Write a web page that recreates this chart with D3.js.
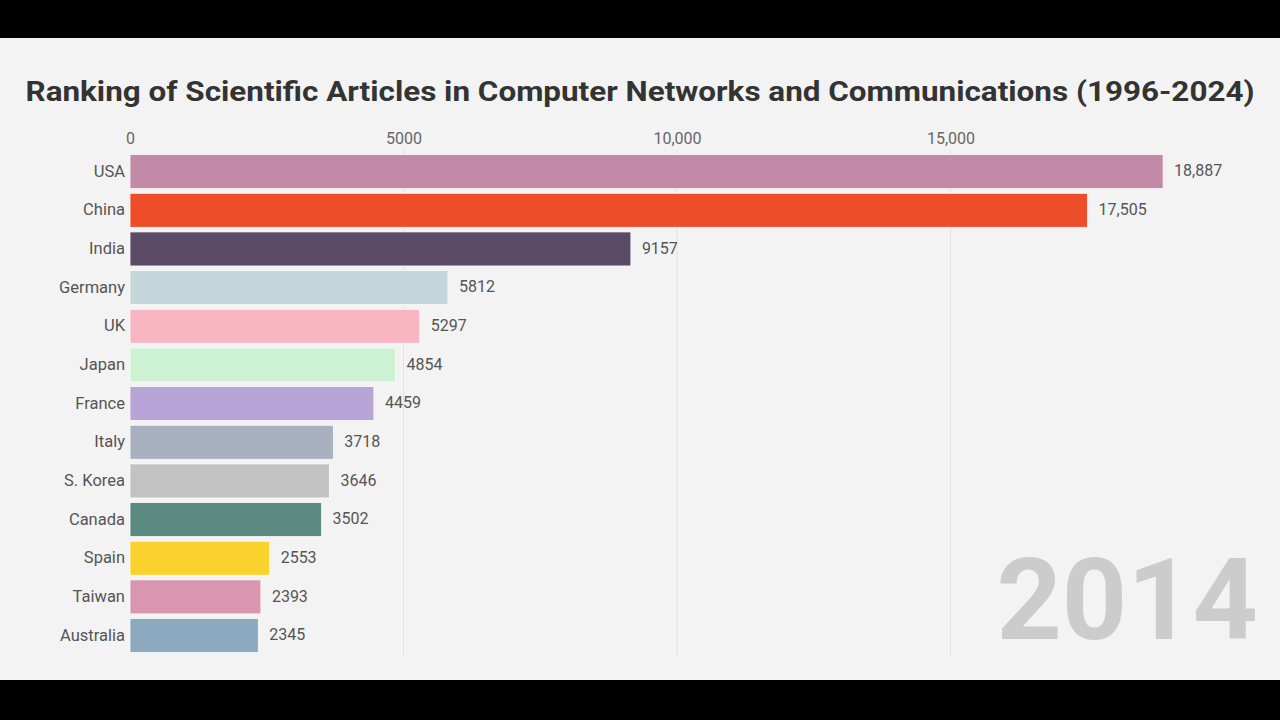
<!DOCTYPE html>
<html><head><meta charset="utf-8">
<script src="https://cdn.jsdelivr.net/npm/d3@7"></script>
<style>
html,body{margin:0;padding:0;background:#000;}
svg{display:block;}
</style></head>
<body>
<svg id="chart" width="1280" height="720"></svg>
<script>
const countries = ["USA","China","India","Germany","UK","Japan","France","Italy","S. Korea","Canada","Spain","Taiwan","Australia"];
const values = [18887,17505,9157,5812,5297,4854,4459,3718,3646,3502,2553,2393,2345];
const colors = ["#c38aa8","#ee4d2a","#5a4a66","#c4d6da","#f8b6c2","#ccf2d2","#b9a4d8","#a9b1c0","#c2c2c2","#5b8a80","#f9d22e","#d996ae","#8ca9bf"];
const tickValues = [0,5000,10000,15000];
const tickLabels = ["0","5000","10,000","15,000"];
const year = "2014";
const title = "Ranking of Scientific Articles in Computer Networks and Communications (1996-2024)";

const svg = d3.select("#chart");
svg.append("rect").attr("x",0).attr("y",38).attr("width",1280).attr("height",642).attr("fill","#f3f3f3");

const x = d3.scaleLinear().domain([0,5000]).range([130,403.5]);
const y = d3.scaleBand().domain(countries).range([152.3,654.9]).paddingInner(0.12).paddingOuter(0.06);

svg.append("text").attr("x",640).attr("y",101).attr("text-anchor","middle")
  .attr("font-family","Roboto, sans-serif").attr("font-weight",700).attr("font-size",28)
  .attr("fill","#333").attr("textLength",1229).attr("lengthAdjust","spacingAndGlyphs").text(title);

// gridlines
svg.append("g").selectAll("line").data(tickValues.slice(1)).join("line")
  .attr("x1",d=>x(d)).attr("x2",d=>x(d)).attr("y1",150).attr("y2",656)
  .attr("stroke","#e2e2e2").attr("stroke-width",1);

// axis
const axis = d3.axisTop(x).tickValues(tickValues).tickFormat((d,i)=>tickLabels[i]).tickSize(0).tickPadding(0);
const ag = svg.append("g").attr("transform","translate(0,144)").call(axis);
ag.select(".domain").remove();
ag.selectAll("text").attr("font-family","Roboto, sans-serif").attr("font-size",16).attr("fill","#666");

// bars
svg.append("g").selectAll("rect").data(values).join("rect")
  .attr("x",x(0)).attr("y",(d,i)=>y(countries[i]))
  .attr("width",d=>x(d)-x(0)).attr("height",y.bandwidth())
  .attr("fill",(d,i)=>colors[i]).attr("stroke","#fafafa").attr("stroke-width",0.8);

// country labels
svg.append("g").selectAll("text").data(countries).join("text")
  .attr("x",125).attr("y",d=>y(d)+y.bandwidth()/2).attr("dy","0.3em")
  .attr("text-anchor","end").attr("font-family","Roboto, sans-serif").attr("font-size",16.5)
  .attr("fill","#555").text(d=>d);

// value labels
const fmt = v => v>=10000 ? d3.format(",")(v) : String(v);
svg.append("g").selectAll("text").data(values).join("text")
  .attr("x",d=>x(d)+11).attr("y",(d,i)=>y(countries[i])+y.bandwidth()/2).attr("dy","0.3em")
  .attr("font-family","Roboto, sans-serif").attr("font-size",16).attr("fill","#555")
  .text(d=>fmt(d));

// year
svg.append("text").attr("transform","translate(1258,639)")
  .attr("text-anchor","end")
  .attr("font-family","Roboto, sans-serif").attr("font-weight",700).attr("font-size",114)
  .attr("fill","#cccccc").text(year);
</script>
</body></html>
